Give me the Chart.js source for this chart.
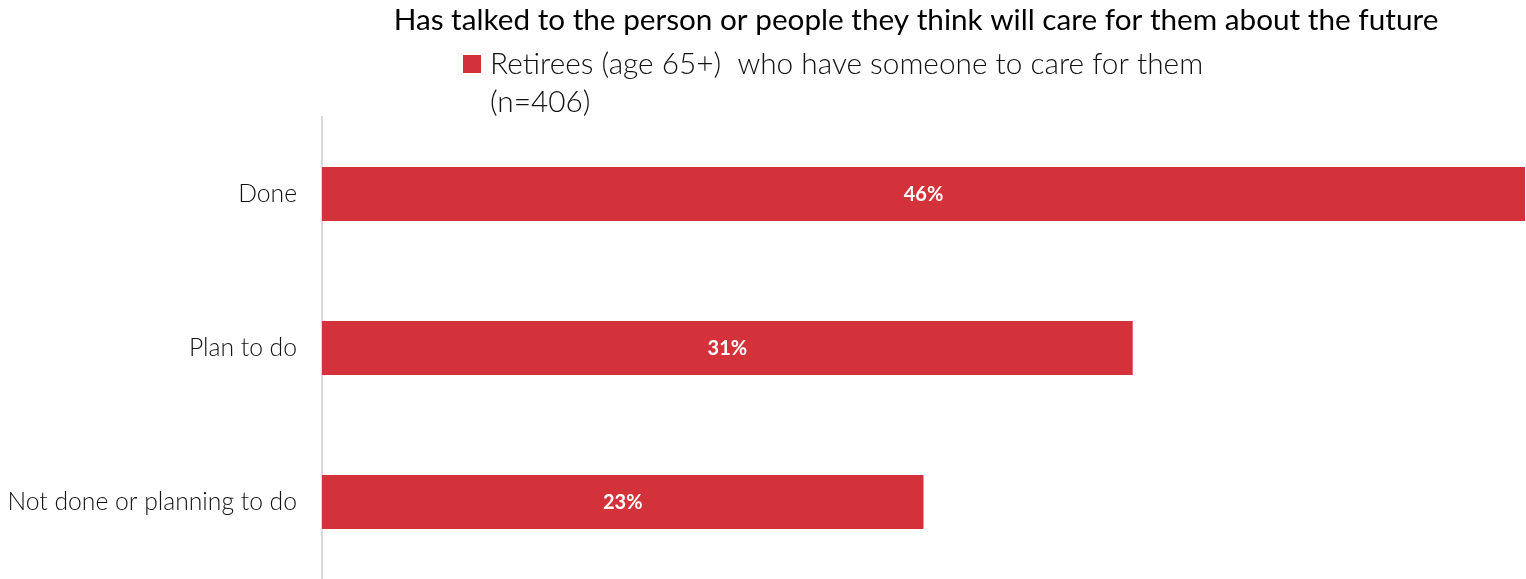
<!DOCTYPE html>
<html lang="en">
<head>
    <meta charset="UTF-8">
    <title>Chart</title>
    <script src="https://cdn.jsdelivr.net/npm/chart.js@4.4.0/dist/chart.umd.min.js"></script>
    <style>
        html, body { margin: 0; padding: 0; background: #fff; overflow: hidden; }
        canvas { display: block; }
    </style>
</head>
<body>
    <canvas id="charts" width="1526" height="579"></canvas>
    <script>
        const categories = ['Done', 'Plan to do', 'Not done or planning to do'];
        const retirees = [46, 31, 23];
        const valueLabels = ['46%', '31%', '23%'];
        const titleText = 'Has talked to the person or people they think will care for them about the future';
        const legendLines = ['Retirees (age 65+)  who have someone to care for them', '(n=406)'];
        const barColor = '#D3323A';
        const fontName = 'Lato, "Open Sans", sans-serif';

        // title, legend and value labels drawn on the canvas
        const extras = {
            id: 'extras',
            afterDatasetsDraw(chart) {
                const ctx = chart.ctx;
                ctx.save();
                ctx.fillStyle = '#fff';
                ctx.font = 'bold 20px ' + fontName;
                ctx.textAlign = 'center';
                ctx.textBaseline = 'middle';
                chart.getDatasetMeta(0).data.forEach((bar, i) => {
                    const x = (bar.base + bar.x) / 2;
                    ctx.fillText(valueLabels[i], x, bar.y + 1);
                });
                ctx.restore();
            },
            afterDraw(chart) {
                const ctx = chart.ctx;
                ctx.save();
                ctx.fillStyle = '#000';
                ctx.textBaseline = 'middle';
                ctx.textAlign = 'center';
                ctx.font = '29.7px ' + fontName;
                ctx.fillText(titleText, 916, 20);

                ctx.fillStyle = barColor;
                ctx.fillRect(463, 55, 18, 18);
                ctx.fillStyle = '#111';
                ctx.textAlign = 'left';
                ctx.font = '300 29.8px ' + fontName;
                ctx.fillText(legendLines[0], 490, 64);
                ctx.fillText(legendLines[1], 490, 102);
                ctx.restore();
            }
        };

        const ctx = document.getElementById('charts').getContext('2d');
        const myChart = new Chart(ctx, {
            type: 'bar',
            data: {
                labels: categories,
                datasets: [{
                    label: legendLines.join(' '),
                    data: retirees,
                    backgroundColor: barColor,
                    borderWidth: 0,
                    categoryPercentage: 1,
                    barPercentage: 0.35
                }]
            },
            options: {
                indexAxis: 'y',
                responsive: false,
                animation: false,
                layout: { padding: { top: 117, right: 1, bottom: 0, left: 0 } },
                plugins: {
                    legend: { display: false },
                    title: { display: false },
                    tooltip: { enabled: false }
                },
                scales: {
                    x: {
                        min: 0,
                        max: 46,
                        display: false
                    },
                    y: {
                        grid: { display: false, drawTicks: false },
                        border: { display: true, color: '#d9d9d9', width: 2 },
                        ticks: {
                            color: '#111',
                            padding: 25,
                            font: { family: fontName, size: 24.7, weight: '300' }
                        },
                        afterFit(scale) {
                            scale.width = 322;
                            scale.paddingTop = 0;
                            scale.paddingBottom = 0;
                        }
                    }
                }
            },
            plugins: [extras]
        });
    </script>
</body>
</html>
